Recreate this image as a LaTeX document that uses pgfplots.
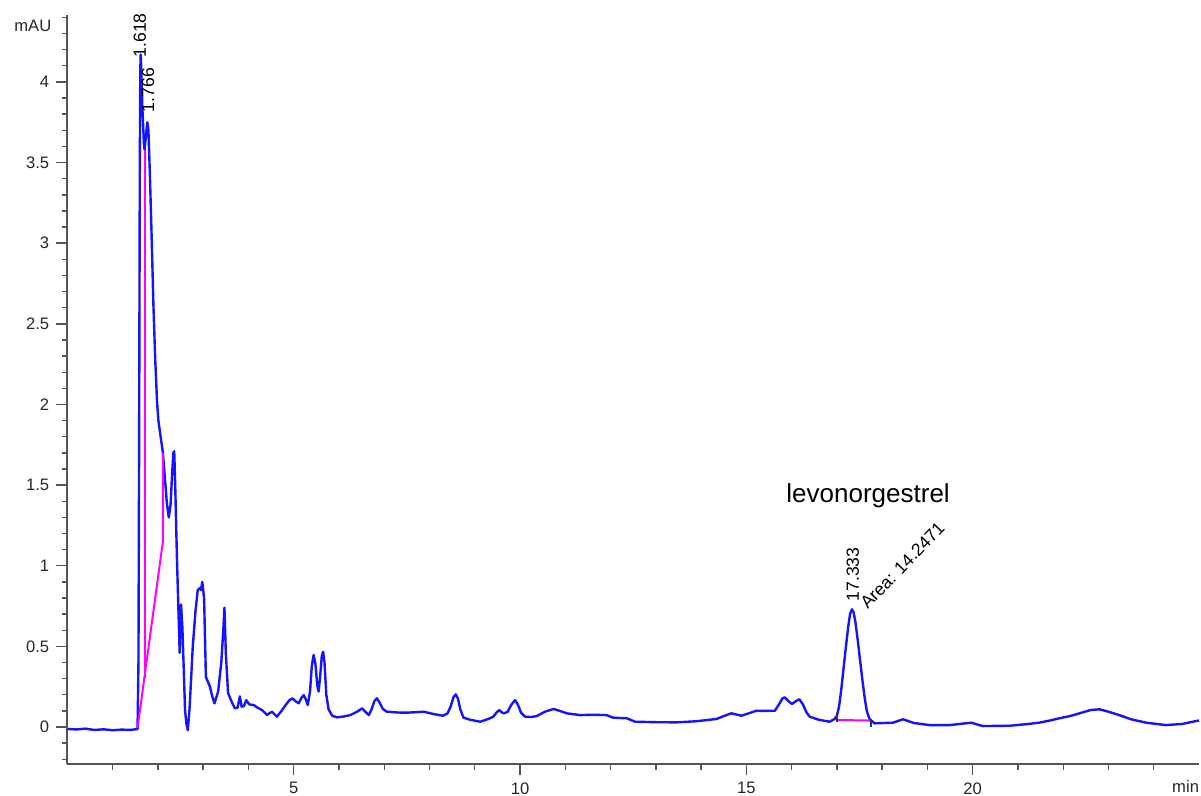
\documentclass[border=0pt]{standalone}
\usepackage{fontspec}
\setmainfont{Liberation Sans}
\usepackage{pgfplots}
\pgfplotsset{compat=1.18}

\definecolor{trace}{RGB}{20,20,255}
\definecolor{intg}{RGB}{255,0,255}
\definecolor{axisgray}{RGB}{85,85,85}

% DAD signal, mAU vs. retention time (min)
\pgfplotstableread{
t v
0.00 -0.012
0.20 -0.015
0.40 -0.010
0.60 -0.018
0.80 -0.014
1.00 -0.020
1.20 -0.016
1.40 -0.018
1.55 -0.012
1.57 0.40
1.585 1.80
1.600 3.50
1.610 4.05
1.618 4.17
1.630 4.10
1.655 3.85
1.690 3.62
1.705 3.58
1.730 3.65
1.766 3.75
1.790 3.70
1.820 3.45
1.860 3.05
1.900 2.62
1.940 2.28
1.980 2.02
2.010 1.90
2.050 1.82
2.110 1.70
2.160 1.52
2.200 1.38
2.240 1.30
2.280 1.38
2.310 1.55
2.340 1.70
2.360 1.71
2.380 1.52
2.420 1.05
2.460 0.66
2.480 0.46
2.510 0.76
2.540 0.62
2.600 0.10
2.630 0.02
2.660 -0.02
2.700 0.12
2.770 0.50
2.830 0.72
2.880 0.85
2.920 0.86
2.950 0.85
2.980 0.90
3.020 0.80
3.060 0.31
3.150 0.25
3.200 0.19
3.250 0.147
3.330 0.22
3.400 0.40
3.440 0.58
3.470 0.74
3.500 0.46
3.550 0.21
3.640 0.15
3.700 0.116
3.760 0.12
3.810 0.19
3.850 0.126
3.900 0.13
3.950 0.167
4.020 0.14
4.120 0.136
4.200 0.12
4.300 0.105
4.410 0.075
4.520 0.095
4.630 0.064
4.730 0.10
4.820 0.136
4.900 0.165
4.970 0.178
5.040 0.160
5.110 0.147
5.170 0.180
5.220 0.198
5.270 0.170
5.310 0.136
5.360 0.22
5.400 0.38
5.440 0.447
5.480 0.39
5.520 0.26
5.550 0.22
5.580 0.30
5.620 0.44
5.650 0.467
5.680 0.40
5.720 0.20
5.770 0.11
5.850 0.07
5.960 0.060
6.100 0.065
6.250 0.074
6.400 0.095
6.510 0.116
6.600 0.090
6.660 0.074
6.720 0.11
6.780 0.160
6.840 0.178
6.900 0.150
6.970 0.112
7.060 0.095
7.300 0.090
7.500 0.089
7.700 0.092
7.870 0.095
8.100 0.080
8.300 0.070
8.400 0.085
8.470 0.13
8.530 0.185
8.580 0.203
8.630 0.175
8.680 0.11
8.750 0.058
8.900 0.045
9.120 0.033
9.300 0.050
9.410 0.064
9.480 0.090
9.540 0.105
9.600 0.090
9.650 0.085
9.730 0.095
9.800 0.135
9.890 0.167
9.950 0.140
10.020 0.090
10.110 0.064
10.250 0.062
10.370 0.068
10.550 0.095
10.740 0.112
10.880 0.100
11.030 0.085
11.330 0.074
11.600 0.076
11.910 0.074
12.060 0.058
12.360 0.054
12.540 0.033
13.000 0.030
13.460 0.029
13.900 0.036
14.340 0.050
14.520 0.070
14.670 0.085
14.890 0.070
15.050 0.085
15.220 0.101
15.450 0.100
15.630 0.101
15.720 0.140
15.800 0.178
15.850 0.184
15.930 0.160
16.010 0.143
16.090 0.160
16.170 0.172
16.250 0.140
16.330 0.090
16.400 0.064
16.600 0.045
16.840 0.033
16.950 0.050
17.000 0.070
17.050 0.130
17.100 0.240
17.150 0.370
17.200 0.500
17.250 0.620
17.290 0.700
17.333 0.730
17.370 0.710
17.410 0.650
17.460 0.540
17.510 0.420
17.560 0.300
17.610 0.190
17.660 0.100
17.720 0.050
17.830 0.023
18.240 0.027
18.460 0.048
18.700 0.025
19.050 0.012
19.490 0.012
19.970 0.027
20.220 0.006
20.810 0.008
21.200 0.018
21.470 0.027
21.700 0.040
21.910 0.054
22.150 0.068
22.360 0.085
22.600 0.105
22.800 0.110
23.000 0.095
23.240 0.074
23.500 0.048
23.830 0.027
24.270 0.012
24.630 0.019
24.930 0.037
25.000 0.040
}\signal

\begin{document}
\begin{tikzpicture}
\begin{axis}[
  at={(0,0)}, anchor=south west,
  scale only axis, width=565.8pt, height=374.65pt,
  xmin=0, xmax=25, ymin=-0.231, ymax=4.415,
  axis x line*=bottom, axis y line*=left,
  axis line style={-, draw=axisgray, line width=1pt},
  tick align=outside,
  major tick length=5.6pt, minor tick length=2.8pt,
  every tick/.style={draw=axisgray, line width=0.7pt},
  xtick={5,10,15,20},
  minor xtick={1,2,3,4,6,7,8,9,11,12,13,14,16,17,18,19,21,22,23,24},
  ytick={0,0.5,1,1.5,2,2.5,3,3.5,4},
  minor ytick={-0.2,-0.1,0.1,0.2,0.3,0.4,0.6,0.7,0.8,0.9,1.1,1.2,1.3,1.4,1.6,1.7,1.8,1.9,2.1,2.2,2.3,2.4,2.6,2.7,2.8,2.9,3.1,3.2,3.3,3.4,3.6,3.7,3.8,3.9,4.1,4.2,4.3,4.4},
  /pgf/number format/assume math mode=true,
  tick label style={font=\fontsize{8.3}{10}\selectfont, text=black!85},
  clip=false,
]
\addplot[trace, line width=1.2pt, line join=round] table[x=t, y=v] {\signal};

% integration baselines and drop lines
\addplot[intg, line width=1pt] coordinates {(1.55,-0.005) (2.11,1.15) (2.11,1.70)};
\addplot[intg, line width=1pt] coordinates {(1.705,3.58) (1.705,0.305)};
\addplot[intg, line width=1pt] coordinates {(17.00,0.044) (17.76,0.040)};
\addplot[black!80, line width=0.8pt] coordinates {(17.00,0.030) (17.00,0.085)};
\addplot[black!80, line width=0.8pt] coordinates {(17.76,0.000) (17.76,0.050)};

% peak annotations
\node[rotate=90, anchor=west, inner sep=0pt, font=\fontsize{8.8}{10}\selectfont] at (axis cs:1.600,4.15) {1.618};
\node[rotate=90, anchor=west, inner sep=0pt, font=\fontsize{8.8}{10}\selectfont] at (axis cs:1.780,3.81) {1.766};
\node[rotate=90, anchor=west, inner sep=0pt, font=\fontsize{8.8}{10}\selectfont] at (axis cs:17.35,0.777) {17.333};
\node[rotate=46, anchor=west, inner sep=0pt, font=\fontsize{8.8}{10}\selectfont] at (axis cs:17.58,0.75) {Area: 14.2471};
\node[font=\fontsize{13}{15}\selectfont] at (axis cs:17.69,1.436) {levonorgestrel};

% axis units
\node[anchor=base east, inner sep=0pt, font=\fontsize{8.3}{10}\selectfont, text=black!85] at (axis cs:-0.347,4.312) {mAU};
\node[anchor=base west, inner sep=0pt, font=\fontsize{8.3}{10}\selectfont, text=black!85] at (axis cs:24.40,-0.409) {min};
\end{axis}
\pgfresetboundingbox
\useasboundingbox (-33.7pt,-15.85pt) rectangle (566.8pt,382.15pt);
\end{tikzpicture}
\end{document}
